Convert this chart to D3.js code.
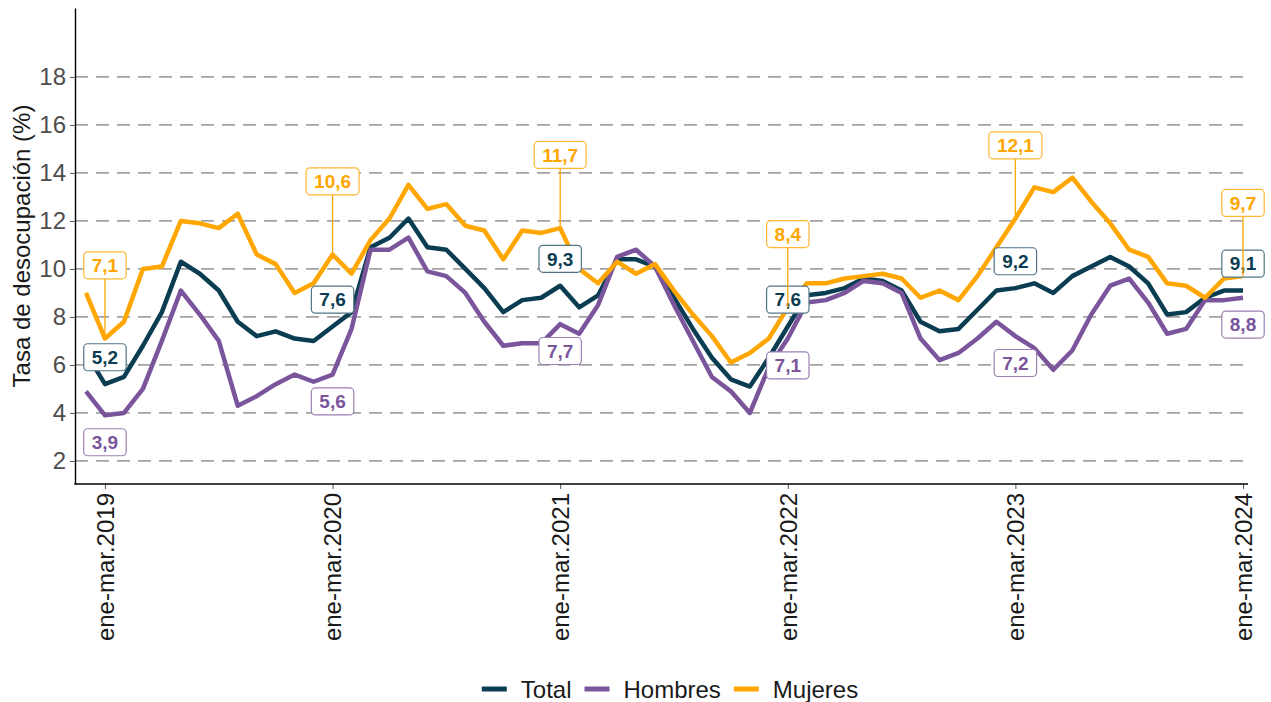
<!DOCTYPE html>
<meta charset="utf-8">
<script src="https://d3js.org/d3.v7.min.js"></script>
<style>
  body { margin: 0; background: #fff; }
  svg { font-family: "Liberation Sans", Arial, sans-serif; }
</style>
<div id="chart"></div>
<script>
// rolling quarters, first one is dic-feb 2019, last one ene-mar 2024
var quarters = ["dic-feb", "ene-mar", "feb-abr", "mar-may", "abr-jun", "may-jul",
                "jun-ago", "jul-sep", "ago-oct", "sep-nov", "oct-dic", "nov-ene"];
var tickLabels = ["ene-mar.2019", "ene-mar.2020", "ene-mar.2021",
                  "ene-mar.2022", "ene-mar.2023", "ene-mar.2024"];

var total = [6.5, 5.2, 5.5, 6.8, 8.2, 10.3, 9.8, 9.1, 7.8, 7.2, 7.4, 7.1,
             7.0, 7.6, 8.2, 10.9, 11.3, 12.1, 10.9, 10.8, 10.0, 9.2, 8.2, 8.7,
             8.8, 9.3, 8.4, 8.9, 10.4, 10.4, 10.1, 8.8, 7.5, 6.3, 5.4, 5.1,
             6.3, 7.6, 8.9, 9.0, 9.2, 9.6, 9.5, 9.1, 7.8, 7.4, 7.5, 8.3,
             9.1, 9.2, 9.4, 9.0, 9.7, 10.1, 10.5, 10.1, 9.4, 8.1, 8.2, 8.8,
             9.1, 9.1];
var hombres = [4.9, 3.9, 4.0, 5.0, 7.0, 9.1, 8.1, 7.0, 4.3, 4.7, 5.2, 5.6,
               5.3, 5.6, 7.5, 10.8, 10.8, 11.3, 9.9, 9.7, 9.0, 7.8, 6.8, 6.9,
               6.9, 7.7, 7.3, 8.5, 10.5, 10.8, 10.1, 8.5, 7.0, 5.5, 4.9, 4.0,
               5.9, 7.1, 8.6, 8.7, 9.0, 9.5, 9.4, 9.0, 7.1, 6.2, 6.5, 7.1,
               7.8, 7.2, 6.7, 5.8, 6.6, 8.1, 9.3, 9.6, 8.6, 7.3, 7.5, 8.7,
               8.7, 8.8];
var mujeres = [9.0, 7.1, 7.8, 10.0, 10.1, 12.0, 11.9, 11.7, 12.3, 10.6, 10.2, 9.0,
               9.4, 10.6, 9.8, 11.2, 12.1, 13.5, 12.5, 12.7, 11.8, 11.6, 10.4, 11.6,
               11.5, 11.7, 10.0, 9.4, 10.3, 9.8, 10.2, 9.1, 8.1, 7.2, 6.1, 6.5,
               7.1, 8.4, 9.4, 9.4, 9.6, 9.7, 9.8, 9.6, 8.8, 9.1, 8.7, 9.7,
               10.9, 12.1, 13.4, 13.2, 13.8, 12.8, 11.9, 10.8, 10.5, 9.4, 9.3, 8.8,
               9.6, 9.7];

// period names: quarter + year of its last month
var periods = total.map(function(d, i) {
  return quarters[i % 12] + "." + (2019 + Math.floor((i + 1) / 12));
});

var series = [
  {name: "Total",   values: total,   color: "#0b3d52", border: "#4f7585", nudge: 1.12},
  {name: "Hombres", values: hombres, color: "#7b559c", border: "#9a80b3", nudge: -1.12},
  {name: "Mujeres", values: mujeres, color: "#ffa600", border: "#ffb733", nudge: 3.05}
];

var W = 1271, H = 702;
var mLeft = 75, mRight = 1248, mTop = 8, mBottom = 484;
var fontSize = 24;

var svg = d3.select("#chart").append("svg")
  .attr("width", W).attr("height", H);

var x = d3.scalePoint()
  .domain(periods)
  .range([86, 1243]);

var y = d3.scaleLinear()
  .domain([1.04, 20.87])
  .range([mBottom, mTop]);

var yTicks = d3.range(2, 19, 2);

// dashed grid
svg.append("g").selectAll("line")
  .data(yTicks)
  .enter().append("line")
    .attr("x1", mLeft).attr("x2", mRight)
    .attr("y1", function(d) { return y(d); })
    .attr("y2", function(d) { return y(d); })
    .attr("stroke", "#a3a3a3")
    .attr("stroke-width", 1.8)
    .attr("stroke-dasharray", "13,8");

// lines
var line = d3.line()
  .x(function(d, i) { return x(periods[i]); })
  .y(function(d) { return y(d); });

series.forEach(function(s) {
  svg.append("path")
    .datum(s.values)
    .attr("fill", "none")
    .attr("stroke", s.color)
    .attr("stroke-width", 4.5)
    .attr("stroke-linejoin", "round")
    .attr("d", line);
});

// y axis
var yAxis = svg.append("g")
  .attr("transform", "translate(" + mLeft + ",0)")
  .call(d3.axisLeft(y).tickValues(yTicks).tickSize(5).tickSizeOuter(0).tickPadding(4));
yAxis.select(".domain").attr("stroke", "#000").attr("stroke-width", 1.4);
yAxis.selectAll(".tick line").attr("stroke", "#555");
yAxis.selectAll("text").attr("font-size", fontSize).attr("fill", "#4d4d4d");

// x axis
var xAxis = svg.append("g")
  .attr("transform", "translate(0," + mBottom + ")")
  .call(d3.axisBottom(x).tickValues(tickLabels).tickSize(5).tickSizeOuter(0));
xAxis.select(".domain").remove();
xAxis.selectAll(".tick line").attr("stroke", "#555");
xAxis.selectAll("text")
  .attr("font-size", fontSize)
  .attr("fill", "#1a1a1a")
  .attr("transform", "rotate(-90)")
  .attr("text-anchor", "end")
  .attr("x", -9)
  .attr("y", 0)
  .attr("dy", "0.35em");
svg.append("line")
  .attr("x1", mLeft - 0.7).attr("x2", mRight)
  .attr("y1", mBottom).attr("y2", mBottom)
  .attr("stroke", "#000").attr("stroke-width", 1.4);

// y title
svg.append("text")
  .attr("transform", "translate(30," + ((mTop + mBottom) / 2) + ") rotate(-90)")
  .attr("text-anchor", "middle")
  .attr("font-size", fontSize)
  .attr("fill", "#1a1a1a")
  .text("Tasa de desocupación (%)");

// value labels at every ene-mar
var fmt = function(v) { return d3.format(".1f")(v).replace(".", ","); };
var labelLayer = svg.append("g");
series.forEach(function(s) {
  tickLabels.forEach(function(p) {
    var i = periods.indexOf(p);
    var v = s.values[i];
    var px = x(p), py = y(v);
    var cy = y(v + s.nudge);
    var g = labelLayer.append("g");
    var seg = g.append("line");
    var rect = g.append("rect");
    var t = g.append("text")
      .attr("x", px).attr("y", cy)
      .attr("dy", "0.36em")
      .attr("text-anchor", "middle")
      .attr("font-size", 19)
      .attr("font-weight", "bold")
      .attr("fill", s.color)
      .text(fmt(v));
    var tw = t.node().getComputedTextLength();
    var bw = tw + 16, bh = 27;
    rect.attr("x", px - bw / 2).attr("y", cy - bh / 2)
      .attr("width", bw).attr("height", bh)
      .attr("rx", 4)
      .attr("fill", "#fff")
      .attr("stroke", s.border)
      .attr("stroke-width", 1.2);
    var edge = s.nudge > 0 ? cy + bh / 2 : cy - bh / 2;
    if (Math.abs(edge - py) > 20) {
      seg.attr("x1", px).attr("x2", px)
        .attr("y1", py).attr("y2", edge)
        .attr("stroke", s.color).attr("stroke-width", 1.3);
    } else {
      seg.remove();
    }
  });
});

// legend
var legend = svg.append("g");
var lx = 0;
series.forEach(function(s) {
  var item = legend.append("g").attr("transform", "translate(" + lx + ",0)");
  item.append("line")
    .attr("x1", 0).attr("x2", 25)
    .attr("y1", 0).attr("y2", 0)
    .attr("stroke", s.color).attr("stroke-width", 5);
  var t = item.append("text")
    .attr("x", 39).attr("y", 0).attr("dy", "0.36em")
    .attr("font-size", fontSize)
    .attr("fill", "#1a1a1a")
    .text(s.name);
  lx += 39 + t.node().getComputedTextLength() + 13;
});
lx -= 13;
legend.attr("transform", "translate(" + (670 - lx / 2) + ",689)");
</script>
